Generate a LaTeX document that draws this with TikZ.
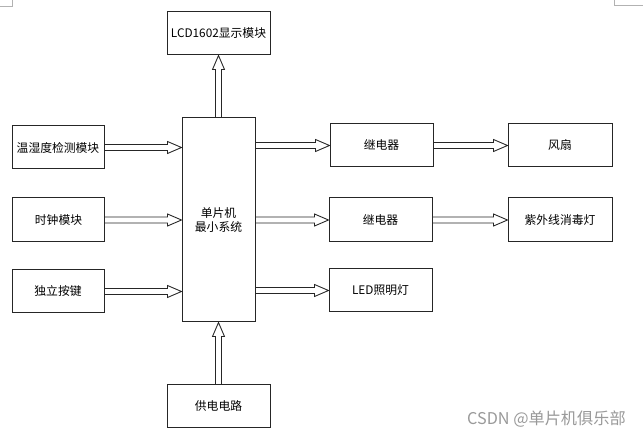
\documentclass[tikz,border=0pt]{standalone}
\usepackage{fontspec}
\newfontfamily\cjk{Noto Sans CJK SC}
\usetikzlibrary{calc}
\begin{document}
\begin{tikzpicture}[x=1pt,y=-1pt,font=\cjk\fontsize{11.8}{14}\selectfont,
        box/.style={draw=black!85,line width=1pt,inner sep=0pt,minimum width=103pt,minimum height=43pt},
        fat/.style={draw=black!85,line width=.9pt,line join=miter}]
                \def\fatR(#1)(#2){\draw[fat] let \p1=(#1),\p2=(#2) in
                        (\x1,{\y1+3pt})--({\x2-14pt},{\y1+3pt})--({\x2-14pt},{\y1+6pt})--(\x2,\y1)
                        --({\x2-14pt},{\y1-6pt})--({\x2-14pt},{\y1-3pt})--(\x1,{\y1-3pt});}
                \def\fatU(#1)(#2){\draw[fat] let \p1=(#1),\p2=(#2) in
                        ({\x1-3pt},\y1)--({\x1-3pt},{\y2-14pt})--({\x1-6pt},{\y2-14pt})--(\x1,\y2)
                        --({\x1+6pt},{\y2-14pt})--({\x1+3pt},{\y2-14pt})--({\x1+3pt},\y1);}
                \useasboundingbox (0,0) rectangle (643,435);
                \draw[gray!60,line width=.8pt] (0,6)--(12,6)--(12,0) (614,0)--(614,5)--(643,5);
                %===========================================
                \node[box] (lcd) at (218.5,33.5) {LCD1602显示模块};
                \node[box,minimum width=73pt,minimum height=204pt,align=center] (mcu) at (218.5,220) {单片机\\最小系统};
                \node[box] (power) at (218.5,406) {供电电路};
                \node[box,minimum width=92pt] (temp) at (58,147.5) {温湿度检测模块};
                \node[box,minimum width=92pt,minimum height=44pt] (clock) at (58.5,220) {时钟模块};
                \node[box,minimum width=92pt] (key) at (58,291.5) {独立按键};
                \node[box] (relA) at (381.5,145.5) {继电器};
                \node[box,minimum height=44pt] (relB) at (380.5,220) {继电器};
                \node[box] (led) at (380.5,290.5) {LED照明灯};
                \node[box,minimum width=104pt] (fan) at (560,145.5) {风扇};
                \node[box,minimum width=104pt,minimum height=44pt] (uv) at (560,220) {紫外线消毒灯};
                \node[text=gray!80,font=\cjk\fontsize{16.2}{18}\selectfont] (mark) at (546.5,419) {CSDN @单片机俱乐部};
                %===========================================
                \fatU(mcu.north)(lcd.south)
                \fatU(power.north)(mcu.south)
                \fatR(temp.east)(mcu.west)
                \fatR(clock.east)(mcu.west)
                \fatR(key.east)(mcu.west)
                \fatR(mcu.east|-relA.west)(relA.west)
                \fatR(mcu.east|-relB.west)(relB.west)
                \fatR(mcu.east|-led.west)(led.west)
                \fatR(relA.east)(fan.west)
                \fatR(relB.east)(uv.west)
\end{tikzpicture}
\end{document}
